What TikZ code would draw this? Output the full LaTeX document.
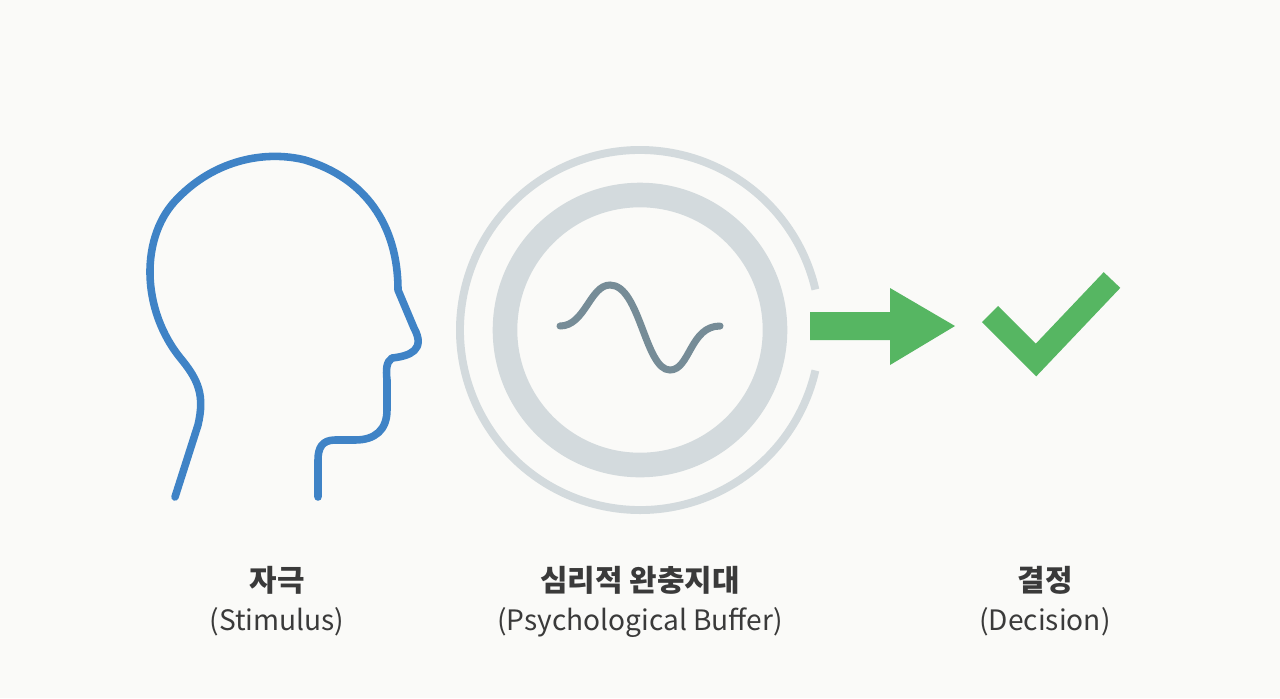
\documentclass[tikz,border=0pt]{standalone}
\usepackage{fontspec}
\newfontfamily\kr{Noto Sans CJK KR}
\setmainfont{Noto Sans CJK KR}
\definecolor{bg}{HTML}{FAFAF8}
\definecolor{headblue}{HTML}{3F83C6}
\definecolor{ring}{HTML}{D3DADD}
\definecolor{wave}{HTML}{768C97}
\definecolor{grn}{HTML}{56B662}
\definecolor{txt}{HTML}{3A3A3A}
\tikzset{px/.style={x=0.02cm,y=-0.02cm},
 title/.style={font=\kr\bfseries\fontsize{17}{20}\selectfont,text=txt},
 sub/.style={font=\kr\fontsize{16}{19}\selectfont,text=txt}}
\begin{document}
\begin{tikzpicture}[px]
\fill[bg] (0,0) rectangle (1280,698);
\useasboundingbox (0,0) rectangle (1280,698);
% head
\draw[headblue,line width=4.3pt,line cap=round,line join=round]
 (175,497) -- (198,425) .. controls (205,395) and (198,380) .. (182,360)
 .. controls (140,310) and (140,235) .. (178,198)
 .. controls (215,160) and (265,150) .. (305,160)
 .. controls (365,178) and (398,225) .. (398,290) -- (414,328)
 .. controls (426,350) and (410,356) .. (392,358)
 .. controls (386,362) and (386,370) .. (387,380) -- (387,410)
 .. controls (387,430) and (375,440) .. (355,440) -- (335,440)
 .. controls (322,440) and (318,448) .. (318,460) -- (318,497);
% rings
\draw[ring,line width=4.5pt] (640,330) ++(13:180) arc[start angle=13,end angle=347,radius=180];
\draw[ring,line width=14pt] (640,330) circle[radius=135];
\draw[wave,line width=4pt,line cap=round]
 (560,326) .. controls (585,326) and (590,285) .. (610,285)
 .. controls (640,285) and (645,370) .. (670,370)
 .. controls (690,370) and (690,326) .. (720,326);
% arrow
\fill[grn] (810,312) -- (890,312) -- (890,288) -- (955,326) -- (890,365) -- (890,340) -- (810,340) -- cycle;
% check
\draw[grn,line width=13pt] (990,314) -- (1036,360) -- (1112,280);
% labels
\node[title] (t1) at (277,580) {자극};
\node[sub] (s1) at (277,622) {(Stimulus)};
\node[title] (t2) at (640,580) {심리적 완충지대};
\node[sub] (s2) at (640,622) {(Psychological Buffer)};
\node[title] (t3) at (1045,580) {결정};
\node[sub] (s3) at (1045,622) {(Decision)};
\end{tikzpicture}
\end{document}
